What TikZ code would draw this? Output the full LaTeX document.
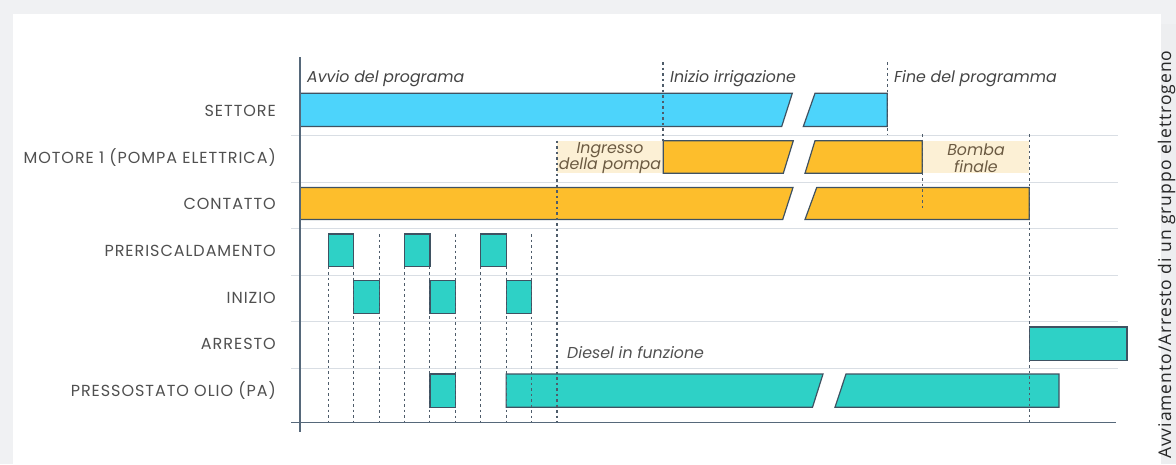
\documentclass[tikz,border=0pt]{standalone}
\usepackage{fontspec}
\setmainfont{Poppins}
\newfontfamily\labelfont[LetterSpace=6]{Poppins}
\newfontfamily\sidefont[LetterSpace=5.5]{Open Sans}
\usetikzlibrary{calc}

\definecolor{bluef}{HTML}{4DD4FB}
\definecolor{orangef}{HTML}{FDBE2C}
\definecolor{tealf}{HTML}{2ED1C6}
\definecolor{creamf}{HTML}{FCF0D5}
\definecolor{edgec}{HTML}{3F5262}
\definecolor{sepc}{HTML}{D9DEE4}
\definecolor{axisc}{HTML}{56687A}
\definecolor{labelc}{HTML}{505050}
\definecolor{notec}{HTML}{444444}
\definecolor{creamtext}{HTML}{6B5A42}
\definecolor{dashc}{HTML}{4E5C6A}
\definecolor{outergray}{HTML}{F0F1F3}
\definecolor{stripgray}{HTML}{EDEEF0}

\tikzset{
  bar/.style={draw=edgec, line width=1.2pt, line join=miter},
  guide/.style={draw=dashc, line width=1.1pt, dash pattern=on 2.5pt off 3pt},
  sepline/.style={draw=sepc, line width=1pt},
  axisline/.style={draw=axisc, line width=1.5pt},
  rowlabel/.style={anchor=east, inner sep=0pt, text=labelc, font=\labelfont\fontsize{16}{18}\selectfont},
  evlabel/.style={anchor=base west, inner sep=0pt, text=notec, font=\fontsize{15.8}{18}\selectfont\itshape},
  creamlabel/.style={align=center, inner sep=0pt, text=creamtext, font=\fontsize{15.8}{16.5}\selectfont\itshape},
}

\begin{document}
\begin{tikzpicture}[x=1pt,y=-1pt]
\useasboundingbox (0,0) rectangle (1176,464);
\clip (0,0) rectangle (1176,464);

% page background and panels
\fill[outergray] (0,0) rectangle (1176,464);
\fill[white] (13,14) rectangle (1161,464);
\fill[stripgray] (1161,24) rectangle (1176,464);

% row separators
\foreach \y in {135.3,182,228.7,275.4,321.8,368.3}
  \draw[sepline] (291,\y) -- (1118,\y);

% cream phases of the pump
\fill[creamf] (557,140.7) rectangle (663,173.3);
\fill[creamf] (922.3,140.7) rectangle (1029.3,173.3);
\node[creamlabel] (ingresso) at (610,158) {Ingresso\\della pompa};
\node[creamlabel] (bomba) at (976,158) {Bomba\\finale};

% SETTORE
\filldraw[bar, fill=bluef] (300,93.3) -- (792.3,93.3) -- (781.7,126.5) -- (300,126.5) -- cycle;
\filldraw[bar, fill=bluef] (815,93.3) -- (887.3,93.3) -- (887.3,126.5) -- (803.3,126.5) -- cycle;

% MOTORE 1
\filldraw[bar, fill=orangef] (663.3,140.7) -- (793.3,140.7) -- (783.3,173.3) -- (663.3,173.3) -- cycle;
\filldraw[bar, fill=orangef] (815,140.7) -- (922.3,140.7) -- (922.3,173.3) -- (805,173.3) -- cycle;

% CONTATTO
\filldraw[bar, fill=orangef] (300,187.5) -- (793,187.5) -- (782.7,219.5) -- (300,219.5) -- cycle;
\filldraw[bar, fill=orangef] (816.7,187.5) -- (1029.3,187.5) -- (1029.3,219.5) -- (805,219.5) -- cycle;

% PRERISCALDAMENTO
\foreach \a in {328.3,404.5,480.7}
  \filldraw[bar, fill=tealf] (\a,234) rectangle ++(25.4,32.5);

% INIZIO
\foreach \a in {353.7,429.9,506.1}
  \filldraw[bar, fill=tealf] (\a,280.7) rectangle ++(25.4,32.6);

% ARRESTO
\filldraw[bar, fill=tealf] (1029.3,327) rectangle (1127,360.5);

% PRESSOSTATO OLIO
\filldraw[bar, fill=tealf] (429.9,374) rectangle (455.3,407.3);
\filldraw[bar, fill=tealf] (506.1,374) -- (823,374) -- (812.5,407.3) -- (506.1,407.3) -- cycle;
\filldraw[bar, fill=tealf] (846,374) -- (1059,374) -- (1059,407.3) -- (835,407.3) -- cycle;

% time guides
\foreach \a in {328.3,353.7,404.5,429.9,480.7,506.1}
  \draw[guide] (\a,266.5) -- (\a,422);
\foreach \a in {379.1,455.3,531.5}
  \draw[guide] (\a,234) -- (\a,422);
\draw[guide] (557,140.7) -- (557,422);
\draw[guide] (663,62) -- (663,140.7);
\draw[guide] (887.3,62) -- (887.3,135);
\draw[guide] (922.3,134) -- (922.3,208);
\draw[guide] (1029.3,134) -- (1029.3,422);

% axes
\draw[axisline] (300,57) -- (300,432);
\draw[axisline] (291,422.5) -- (1116,422.5);

% event labels
\node[evlabel] (avvio) at (307,82) {Avvio del programa};
\node[evlabel] (inizioirr) at (670,82) {Inizio irrigazione};
\node[evlabel] (fine) at (894,82) {Fine del programma};
\node[evlabel, text=labelc] (diesel) at (567,358) {Diesel in funzione};

% row labels
\node[rowlabel] (settore) at (276,111) {SETTORE};
\node[rowlabel] (motore) at (276,157.5) {MOTORE 1 (POMPA ELETTRICA)};
\node[rowlabel] (contatto) at (276,204) {CONTATTO};
\node[rowlabel] (prerisc) at (276,251) {PRERISCALDAMENTO};
\node[rowlabel] (inizio) at (276,297.5) {INIZIO};
\node[rowlabel] (arresto) at (276,344) {ARRESTO};
\node[rowlabel] (pressostato) at (276,391) {PRESSOSTATO OLIO (PA)};

% side caption
\node[rotate=90, anchor=base west, inner sep=0pt, text=black!85, font=\sidefont\fontsize{17.5}{20}\selectfont] (caption) at (1171,459) {Avviamento/Arresto di un gruppo elettrogeno};
\end{tikzpicture}
\end{document}
